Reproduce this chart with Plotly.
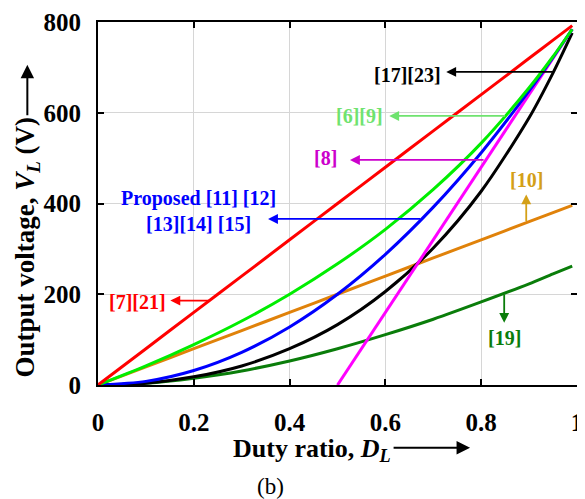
import plotly.graph_objects as go

# ---- data ----
duty = [0, 0.1, 0.2, 0.3, 0.4, 0.5, 0.6, 0.7, 0.8, 0.9, 0.95, 0.99]
v_7_21 = [0, 80, 160, 240, 320, 400, 480, 560, 640, 720, 760, 792]
v_10 = [0, 40, 80, 120, 160, 200, 240, 280, 320, 360, 380, 396]
v_6_9 = [0, 42, 89, 141, 200, 267, 343, 431, 533, 655, 724, 784]
v_proposed = [0, 8, 32, 72, 128, 200, 288, 392, 512, 648, 722, 784]
v_17_23 = [0, 4, 18, 42, 80, 133, 206, 302, 427, 589, 688, 776]
v_19 = [0, 4, 15, 31, 53, 80, 111, 145, 183, 223, 245, 262]
duty_8 = [0.5, 0.99]
v_8 = [0, 784]

x_ticks = [0, 0.2, 0.4, 0.6, 0.8, 1]
x_tick_text = ["0", "0.2", "0.4", "0.6", "0.8", "1"]
y_ticks = [0, 200, 400, 600, 800]
y_tick_text = ["0", "200", "400", "600", "800"]

FONT = "Liberation Serif"

series = [
    (duty, v_19, "#0a7d0a", "[19]"),
    (duty, v_10, "#e0820a", "[10]"),
    (duty, v_17_23, "#000000", "[17][23]"),
    (duty_8, v_8, "#ff00ff", "[8]"),
    (duty, v_proposed, "#0000ff", "Proposed"),
    (duty, v_6_9, "#00ee00", "[6][9]"),
    (duty, v_7_21, "#ff0000", "[7][21]"),
]

fig = go.Figure()
for xs, ys, col, name in series:
    fig.add_trace(go.Scatter(x=xs, y=ys, mode="lines", name=name,
                             line=dict(color=col, width=3, shape="spline", smoothing=0.8),
                             showlegend=False, hoverinfo="skip"))

# label annotations: (text, x, y, xanchor, colour)
labels = [
    ("[17][23]", 0.720, 683, "right", "#000000"),
    ("[6][9]", 0.599, 593, "right", "#6fe36f"),
    ("[8]", 0.503, 500, "right", "#cc00cc"),
    ("[10]", 0.894, 452, "center", "#d4a017"),
    ("Proposed [11] [12]<br>[13][14] [15]", 0.210, 384, "center", "#0000ff"),
    ("[7][21]", 0.147, 184, "right", "#ff0000"),
    ("[19]", 0.848, 104, "center", "#0a7d0a"),
]
# arrows: (tip x, tip y, tail x, tail y, colour)
arrows = [
    (0.727, 690, 0.954, 690, "#000000"),
    (0.608, 593, 0.853, 593, "#6fe36f"),
    (0.526, 496, 0.808, 496, "#cc00cc"),
    (0.894, 420, 0.894, 358, "#d4a017"),
    (0.355, 366, 0.676, 366, "#0000ff"),
    (0.151, 186, 0.235, 186, "#ff0000"),
    (0.848, 137, 0.848, 203, "#0a7d0a"),
]

annotations = []
for t, x, y, xa, col in labels:
    annotations.append(dict(text="<b>" + t + "</b>", x=x, y=y, xref="x", yref="y",
                            xanchor=xa, yanchor="middle", showarrow=False,
                            font=dict(family=FONT, size=20, color=col)))
for tx, ty, ax, ay, col in arrows:
    annotations.append(dict(text="", x=tx, y=ty, ax=ax, ay=ay, xref="x", yref="y",
                            axref="x", ayref="y", showarrow=True, arrowhead=2,
                            arrowsize=1.1, arrowwidth=1.8, arrowcolor=col))

# axis titles
annotations.append(dict(text="<b>Duty ratio, <i>D<sub>L</sub></i></b>", x=0.278, y=-0.178,
                        xref="paper", yref="paper", xanchor="left", yanchor="middle",
                        showarrow=False, font=dict(family=FONT, size=26, color="black")))
annotations.append(dict(text="", x=0.7768, y=-0.1727, xref="paper", yref="paper",
                        ax=-78, ay=0, axref="pixel", ayref="pixel", showarrow=True,
                        arrowhead=2, arrowsize=1.35, arrowwidth=2, arrowcolor="black"))
annotations.append(dict(text="<b>Output voltage, <i>V<sub>L</sub></i> (V)</b>", x=-0.1475, y=0.3796,
                        xref="paper", yref="paper", xanchor="center", yanchor="middle",
                        textangle=-90, showarrow=False,
                        font=dict(family=FONT, size=27, color="black")))
annotations.append(dict(text="", x=-0.1475, y=0.8824, xref="paper", yref="paper",
                        ax=0, ay=52, axref="pixel", ayref="pixel", showarrow=True,
                        arrowhead=2, arrowsize=1.35, arrowwidth=2, arrowcolor="black"))
annotations.append(dict(text="(b)", x=0.3597, y=-0.280, xref="paper", yref="paper",
                        xanchor="center", yanchor="middle", showarrow=False,
                        font=dict(family=FONT, size=23, color="black")))

axis_common = dict(showline=True, linecolor="black", linewidth=2, mirror="ticks",
                   ticks="inside", ticklen=6, tickwidth=2, tickcolor="black",
                   showgrid=True, gridcolor="#d6d6d6", gridwidth=1, zeroline=False,
                   automargin=False,
                   tickfont=dict(family=FONT, size=25, color="black", weight="bold"))

# the page body adds an 8 px offset, so the figure is 8 px smaller than the window
fig.update_layout(
    width=577, height=491,
    margin=dict(l=90, r=8, t=14, b=114, autoexpand=False),
    paper_bgcolor="white", plot_bgcolor="white",
    xaxis=dict(range=[0, 1], tickvals=x_ticks, ticktext=x_tick_text,
               ticklabelstandoff=14, **axis_common),
    yaxis=dict(range=[0, 800], tickvals=y_ticks, ticktext=y_tick_text,
               ticklabelstandoff=10, **axis_common),
    annotations=annotations,
    showlegend=False,
)

fig.write_html("out.html")
